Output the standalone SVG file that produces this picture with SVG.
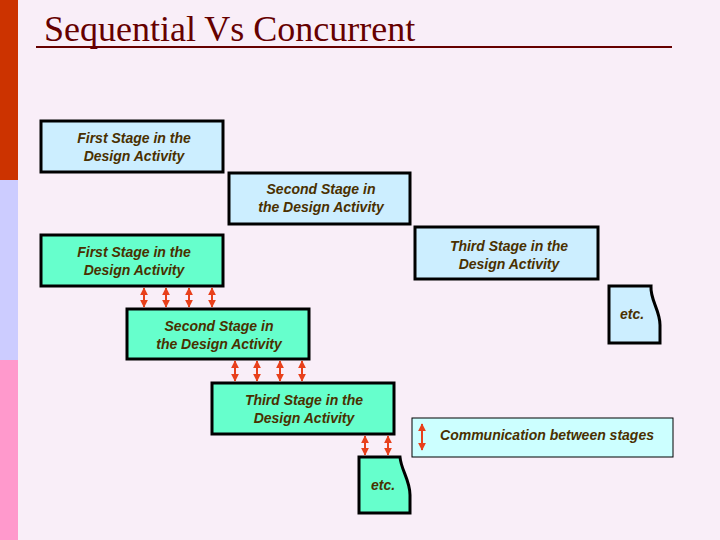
<svg xmlns="http://www.w3.org/2000/svg" width="720" height="540" viewBox="0 0 720 540">
<style>
.b{stroke:#000;stroke-width:3}
.bl{fill:#cceeff}
.gr{fill:#66ffcc}
.t{font-family:"Liberation Sans",Arial,sans-serif;font-size:14px;font-weight:bold;font-style:italic;fill:#4a3000;text-anchor:middle}
.a{stroke:#e8401c;stroke-width:2;marker-start:url(#h);marker-end:url(#h)}
</style>
<defs><marker id="h" viewBox="0 0 10 10" refX="9" refY="5" markerWidth="4" markerHeight="4" orient="auto-start-reverse"><path d="M0,0L10,5L0,10z" fill="#e8401c"/></marker></defs>
<rect width="720" height="540" fill="#f9eef8"/>
<rect x="0" y="0" width="18" height="180" fill="#cc3300"/>
<rect x="0" y="180" width="18" height="180" fill="#ccccff"/>
<rect x="0" y="360" width="18" height="180" fill="#ff99cc"/>
<text x="44" y="41" font-family="Liberation Serif,serif" font-size="36" fill="#660000">Sequential Vs Concurrent</text>
<line x1="36" y1="47" x2="672" y2="47" stroke="#660000" stroke-width="2"/>
<g id="s1"><rect class="b bl" x="41" y="121" width="182" height="51"/><text class="t" x="134" y="143">First Stage in the</text><text class="t" x="134" y="161">Design Activity</text></g>
<g id="s2"><rect class="b bl" x="229" y="173" width="181" height="51"/><text class="t" x="321" y="194">Second Stage in</text><text class="t" x="321" y="212">the Design Activity</text></g>
<g id="s3"><rect class="b bl" x="415" y="227" width="183" height="52"/><text class="t" x="509" y="251">Third Stage in the</text><text class="t" x="509" y="269">Design Activity</text></g>
<g id="s4"><path class="b bl" d="M609,286H651C650,300 660,310 660,325V343H609Z"/><text class="t" x="632" y="319">etc.</text></g>
<g id="c1"><rect class="b gr" x="41" y="235" width="182" height="51"/><text class="t" x="134" y="257">First Stage in the</text><text class="t" x="134" y="275">Design Activity</text></g>
<g id="c2"><rect class="b gr" x="127" y="309" width="182" height="50"/><text class="t" x="219" y="331">Second Stage in</text><text class="t" x="219" y="349">the Design Activity</text></g>
<g id="c3"><rect class="b gr" x="212" y="383" width="182" height="51"/><text class="t" x="304" y="405">Third Stage in the</text><text class="t" x="304" y="423">Design Activity</text></g>
<g id="c4"><path class="b gr" d="M359,457H400C401,470 410,480 410,495V513H359Z"/><text class="t" x="383" y="490">etc.</text></g>
<g id="legend"><rect x="412" y="418" width="261" height="39" fill="#ccffff" stroke="#000" stroke-width="1"/><line class="a" x1="422" y1="424" x2="422" y2="450"/><text class="t" x="547" y="440" style="text-anchor:middle">Communication between stages</text></g>
<g id="connectors">
<line class="a" x1="144" y1="288" x2="144" y2="307"/><line class="a" x1="166" y1="288" x2="166" y2="307"/><line class="a" x1="189" y1="288" x2="189" y2="307"/><line class="a" x1="212" y1="288" x2="212" y2="307"/>
<line class="a" x1="235" y1="361" x2="235" y2="381"/><line class="a" x1="257" y1="361" x2="257" y2="381"/><line class="a" x1="280" y1="361" x2="280" y2="381"/><line class="a" x1="302" y1="361" x2="302" y2="381"/>
<line class="a" x1="365" y1="436" x2="365" y2="455"/><line class="a" x1="388" y1="436" x2="388" y2="455"/>
</g>
</svg>
